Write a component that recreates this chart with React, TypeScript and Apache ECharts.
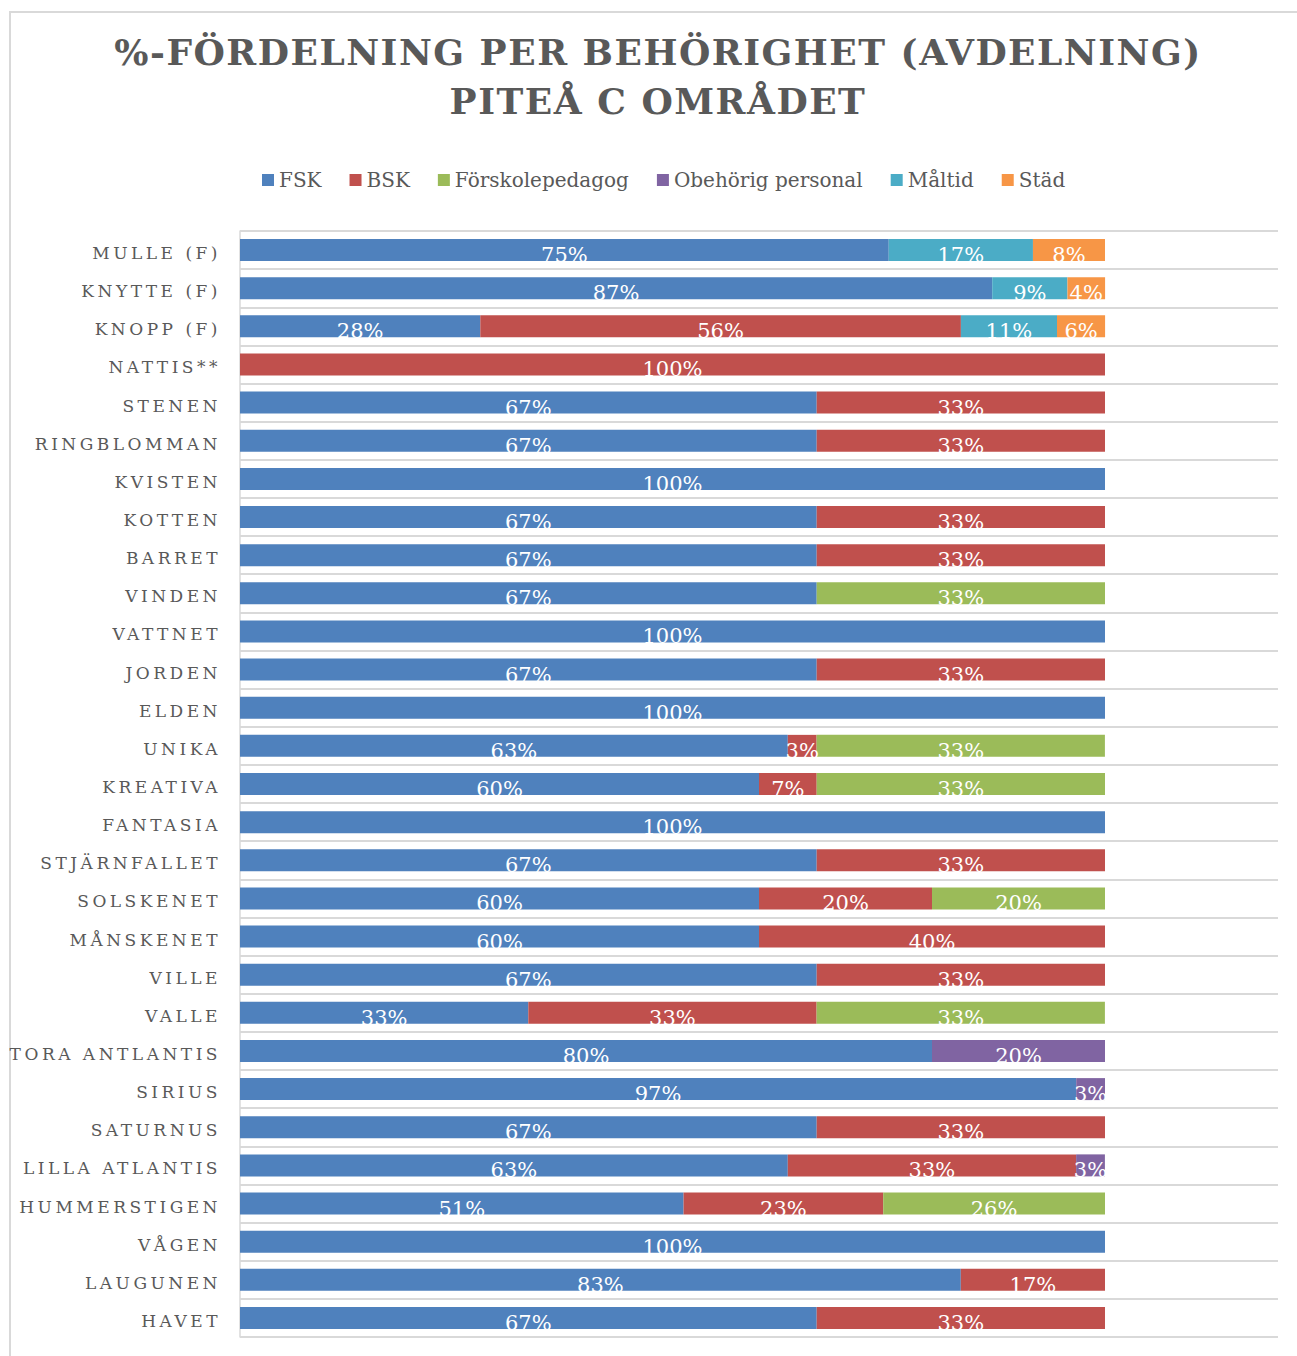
import React, { useEffect, useRef } from "react";
import * as echarts from "echarts";

const categories = [
  "MULLE (F)", "KNYTTE (F)", "KNOPP (F)", "NATTIS**", "STENEN", "RINGBLOMMAN", "KVISTEN",
  "KOTTEN", "BARRET", "VINDEN", "VATTNET", "JORDEN", "ELDEN", "UNIKA", "KREATIVA",
  "FANTASIA", "STJÄRNFALLET", "SOLSKENET", "MÅNSKENET", "VILLE", "VALLE", "TORA ANTLANTIS",
  "SIRIUS", "SATURNUS", "LILLA ATLANTIS", "HUMMERSTIGEN", "VÅGEN", "LAUGUNEN", "HAVET",
];

const seriesNames = ["FSK", "BSK", "Förskolepedagog", "Obehörig personal", "Måltid", "Städ"];
const seriesColors = ["#4f81bd", "#c0504d", "#9bbb59", "#8064a2", "#4bacc6", "#f79646"];

const fsk = [75, 86.96, 27.78, 0, 66.67, 66.67, 100, 66.67, 66.67, 66.67, 100, 66.67, 100, 63.33, 60, 100, 66.67, 60, 60, 66.67, 33.33, 80, 96.67, 66.67, 63.33, 51.28, 100, 83.33, 66.67];
const bsk = [0, 0, 55.56, 100, 33.33, 33.33, 0, 33.33, 33.33, 0, 0, 33.33, 0, 3.33, 6.67, 0, 33.33, 20, 40, 33.33, 33.33, 0, 0, 33.33, 33.33, 23.08, 0, 16.67, 33.33];
const forskolepedagog = [0, 0, 0, 0, 0, 0, 0, 0, 0, 33.33, 0, 0, 0, 33.33, 33.33, 0, 0, 20, 0, 0, 33.33, 0, 0, 0, 0, 25.64, 0, 0, 0];
const obehorig = [0, 0, 0, 0, 0, 0, 0, 0, 0, 0, 0, 0, 0, 0, 0, 0, 0, 0, 0, 0, 0, 20, 3.33, 0, 3.33, 0, 0, 0, 0];
const maltid = [16.67, 8.7, 11.11, 0, 0, 0, 0, 0, 0, 0, 0, 0, 0, 0, 0, 0, 0, 0, 0, 0, 0, 0, 0, 0, 0, 0, 0, 0, 0];
const stad = [8.33, 4.35, 5.56, 0, 0, 0, 0, 0, 0, 0, 0, 0, 0, 0, 0, 0, 0, 0, 0, 0, 0, 0, 0, 0, 0, 0, 0, 0, 0];

const seriesData = [fsk, bsk, forskolepedagog, obehorig, maltid, stad];

const titleLines = ["%-FÖRDELNING PER BEHÖRIGHET (AVDELNING)", "PITEÅ C OMRÅDET"];

const TEXT = "#595959";
const SERIF = "'DejaVu Serif', serif";

export default function App() {
  const ref = useRef<HTMLDivElement>(null);

  useEffect(() => {
    if (!ref.current) return;
    const chart = echarts.init(ref.current, undefined, { renderer: "svg" });

    const option: any = {
      animation: false,
      backgroundColor: "#ffffff",
      title: {
        text: titleLines.join("\n"),
        left: 658,
        top: 27,
        padding: 0,
        textAlign: "center",
        textStyle: {
          fontFamily: SERIF,
          fontWeight: "bold",
          fontSize: 36,
          lineHeight: 49,
          color: TEXT,
        },
      },
      legend: {
        top: 165,
        left: 257,
        itemWidth: 12,
        itemHeight: 12,
        itemGap: 28,
        icon: "rect",
        data: seriesNames,
        textStyle: { fontFamily: SERIF, fontSize: 20, color: TEXT },
      },
      grid: { left: 240, right: 19, top: 231, bottom: 19, containLabel: false },
      xAxis: {
        type: "value",
        min: 0,
        max: 120,
        show: false,
        splitLine: { show: false },
      },
      yAxis: {
        type: "category",
        inverse: true,
        data: categories,
        axisLine: { show: true, lineStyle: { color: "#d9d9d9", width: 1.5 } },
        axisTick: { show: false },
        splitLine: { show: true, lineStyle: { color: "#d9d9d9", width: 2 } },
        axisLabel: {
          margin: 19,
          verticalAlign: "top",
          lineHeight: 6,
          fontFamily: SERIF,
          fontSize: 17,
          color: TEXT,
        },
      },
      graphic: [
        {
          type: "rect",
          z: -1,
          shape: { x: 10, y: 12, width: 1400, height: 1400 },
          style: { fill: "none", stroke: "#d9d9d9", lineWidth: 2 },
        },
      ],
      series: seriesNames.map((name, i) => ({
        name,
        type: "bar",
        stack: "total",
        barWidth: 22,
        itemStyle: { color: seriesColors[i] },
        data: seriesData[i],
        label: {
          show: true,
          position: "inside",
          offset: [0, 5],
          color: "#ffffff",
          fontFamily: SERIF,
          fontSize: 21,
          formatter: (p: any) => (p.value > 0 ? Math.round(p.value) + "%" : ""),
        },
      })),
    };

    chart.setOption(option);

    const catSet = new Set(categories);
    const titleSet = new Set(titleLines);
    const applySpacing = () => {
      const root = ref.current;
      if (!root) return;
      root.querySelectorAll("text").forEach((t) => {
        const s = (t.textContent || "").trim();
        if (catSet.has(s)) t.setAttribute("letter-spacing", "3.5");
        else if (titleSet.has(s)) t.setAttribute("letter-spacing", "1.5");
      });
    };
    chart.on("finished", applySpacing);
    const timer = setTimeout(applySpacing, 50);

    return () => {
      clearTimeout(timer);
      chart.dispose();
    };
  }, []);

  return (
    <div
      ref={ref}
      style={{ position: "absolute", left: 0, top: 0, width: 1297, height: 1356 }}
    />
  );
}
